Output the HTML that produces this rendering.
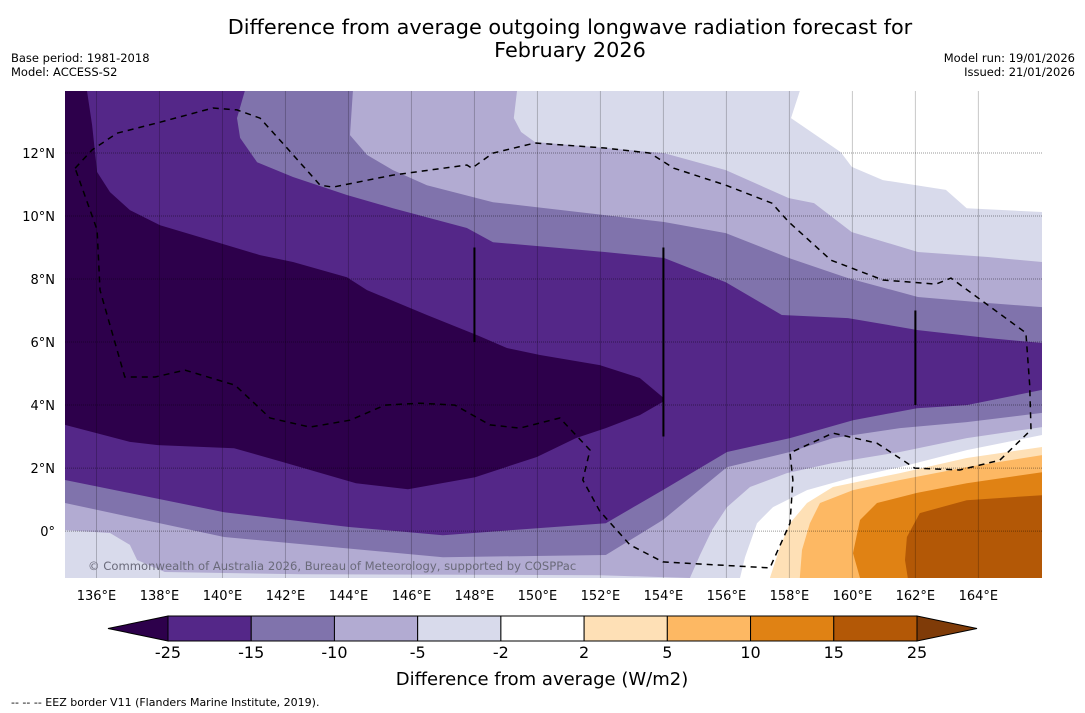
<!DOCTYPE html>
<html><head><meta charset="utf-8"><style>
html,body{margin:0;padding:0;background:#fff;}
svg{display:block;font-family:"DejaVu Sans","Liberation Sans",sans-serif;}
</style></head><body>
<svg id="chart" width="1085" height="713" viewBox="0 0 1085 713" xmlns="http://www.w3.org/2000/svg">
<text x="570" y="34" text-anchor="middle" font-size="20.8" fill="#000">Difference from average outgoing longwave radiation forecast for</text>
<text x="570" y="57" text-anchor="middle" font-size="20.8" fill="#000">February 2026</text>
<text x="11" y="62" font-size="11.5">Base period: 1981-2018</text>
<text x="11" y="76" font-size="11.5">Model: ACCESS-S2</text>
<text x="1075" y="62" font-size="11.5" text-anchor="end">Model run: 19/01/2026</text>
<text x="1075" y="76" font-size="11.5" text-anchor="end">Issued: 21/01/2026</text>
<defs><clipPath id="mapclip"><rect x="65" y="91" width="977" height="487"/></clipPath></defs>
<g id="map" clip-path="url(#mapclip)"></g>
<g id="axes"></g>
<g id="cbar"></g>
<text x="542" y="685" text-anchor="middle" font-size="18">Difference from average (W/m2)</text>
<text x="11" y="706" font-size="11">--  --  -- EEZ border V11 (Flanders Marine Institute, 2019).</text>
</svg>
<script>
const lonTicks=[136,138,140,142,144,146,148,150,152,154,156,158,160,162,164];
const latTicks=[0,2,4,6,8,10,12];
const cbLevels=[-25,-15,-10,-5,-2,2,5,10,15,25];
const cbColors=["#542788","#8073ac","#b2abd2","#d8daeb","#ffffff","#fee0b6","#fdb863","#e08214","#b35806"];
const cbUnder="#2d004b", cbOver="#7f3b08";
const whiteTop=[[158.33,13.97],[158.05,13.11],[159.63,12.03],[159.98,11.56],[160.97,11.14],[162.97,10.83],[163.63,10.25],[166.02,10.13]];
const whiteBottom=[[166.02,3.05],[163.63,2.57],[161.51,2.03],[160.02,1.71],[158.56,1.30],[157.48,0.76],[156.97,0.25],[156.59,-0.83],[156.43,-1.49]];
const p5Top=[[149.35,13.97],[149.25,13.11],[149.48,12.67],[149.92,12.35],[152.14,12.16],[154.02,12.00],[155.98,11.46],[157.98,10.57],[158.78,10.41],[159.98,9.49],[162.08,8.86],[164.30,8.70],[166.02,8.54]];
const p5Bottom=[[166.02,3.30],[163.63,2.95],[161.51,2.51],[159.38,2.16],[157.92,1.84],[156.75,1.40],[156.02,0.76],[155.54,0.03],[155.16,-0.76],[154.84,-1.49]];
const llPatch=[[135,0.03],[136.43,-0.06],[137.06,-0.44],[137.29,-0.92],[138.17,-1.30],[142.46,-1.37],[151.98,-1.40],[154.84,-1.49],[135,-1.49]];
const p10Top=[[144.14,13.97],[144.05,12.57],[144.59,11.94],[145.41,11.46],[146.49,10.98],[148.59,10.44],[152.14,10.03],[154.02,9.81],[155.98,9.46],[157.98,8.67],[159.86,8.03],[162.08,7.43],[164.30,7.24],[166.02,7.11]];
const p10Bottom=[[166.02,3.75],[163.63,3.46],[161.51,3.27],[159.38,2.95],[158.02,2.51],[156.02,2.03],[153.98,0.35],[152.17,-0.76],[147.0,-0.83],[140.05,-0.19],[135,0.89]];
const p15Top=[[140.71,13.97],[140.46,13.11],[140.56,12.48],[141.10,11.71],[142.24,11.24],[143.95,10.67],[145.41,10.25],[147.76,9.62],[148.59,9.17],[152.14,8.86],[154.02,8.67],[155.98,7.90],[157.76,6.86],[159.86,6.76],[162.08,6.38],[164.30,6.13],[166.02,5.97]];
const p15Bottom=[[166.02,4.48],[163.63,4.00],[162.05,3.90],[160.02,3.52],[158.02,2.95],[156.02,2.51],[153.98,1.30],[152.17,0.25],[147.0,-0.13],[144.02,0.13],[140.05,0.60],[135,1.62]];
const darkTop=[[135.70,13.97],[135.86,12.89],[136.02,11.40],[136.43,10.76],[137.06,10.19],[138.02,9.71],[139.92,9.14],[141.19,8.76],[142.24,8.54],[143.95,8.06],[144.59,7.65],[146.49,6.86],[148.08,6.22],[149.03,5.81],[150.08,5.59],[151.98,5.27],[153.25,4.86],[153.98,4.25]];
const darkBottom=[[153.98,4.10],[153.25,3.68],[152.17,3.27],[151.22,2.95],[149.98,2.35],[148.02,1.71],[145.89,1.33],[144.24,1.52],[141.92,2.19],[140.37,2.63],[137.95,2.73],[137.06,2.83],[135,3.37]];
const o2=[[166.02,2.67],[163.63,2.32],[161.51,1.84],[159.38,1.40],[158.56,0.89],[158.02,0.25],[157.70,-0.51],[157.38,-1.49]];
const o5=[[166.02,2.41],[163.63,2.03],[161.51,1.62],[160.02,1.30],[158.97,0.89],[158.65,0.25],[158.40,-0.60],[158.33,-1.49]];
const o10=[[166.02,1.87],[163.63,1.52],[162.05,1.21],[160.78,0.89],[160.24,0.35],[160.02,-0.70],[160.24,-1.49]];
const o15=[[166.02,1.14],[163.63,0.98],[162.14,0.57],[161.73,-0.19],[161.67,-0.92],[161.76,-1.49]];
const eez=[[135.32,11.52],[135.86,12.10],[136.65,12.63],[138.02,12.98],[139.70,13.43],[140.46,13.37],[141.19,13.11],[142.05,12.16],[143.10,10.98],[143.51,10.92],[145.41,11.30],[147.76,11.62],[147.92,11.52],[148.59,12.00],[149.92,12.32],[152.14,12.16],[153.57,12.00],[154.33,11.52],[155.98,10.98],[157.44,10.41],[157.98,9.81],[159.32,8.60],[160.97,7.97],[162.65,7.84],[163.13,8.03],[165.51,6.29],[165.63,4.63],[165.67,3.21],[164.68,2.25],[163.41,1.94],[161.98,2.00],[160.78,2.79],[159.38,3.11],[158.02,2.48],[158.11,1.62],[158.02,0.25],[157.38,-1.17],[153.98,-0.98],[152.94,-0.44],[151.98,0.63],[151.44,1.62],[151.67,2.57],[150.71,3.59],[149.44,3.27],[148.49,3.37],[147.38,4.00],[146.27,4.06],[145.16,4.00],[144.05,3.52],[142.78,3.30],[141.51,3.59],[140.40,4.63],[138.81,5.11],[137.86,4.89],[136.90,4.89],[136.11,7.65],[136.02,9.56],[135.32,11.52]];
const blackLines=[[148,9,6],[154,9,3],[162,7,4]];

const NS="http://www.w3.org/2000/svg";
const lonMin=135, lonMax=166.02, latMin=-1.49, latMax=13.97;
const X0=65,X1=1042,Y0=578,Y1=91;
function X(lon){return X0+(lon-lonMin)/(lonMax-lonMin)*(X1-X0);}
function Y(lat){return Y0-(lat-latMin)/(latMax-latMin)*(Y0-Y1);}
function pts(arr){return arr.map(p=>X(p[0]).toFixed(1)+","+Y(p[1]).toFixed(1)).join(" ");}
const map=document.getElementById("map");
function poly(arr,fill,name){
  const el=document.createElementNS(NS,"polygon");
  el.setAttribute("points",pts(arr));el.setAttribute("fill",fill);
  
  
  map.appendChild(el);return el;
}
const TL=[lonMin,latMax],TR=[lonMax,latMax],BL=[lonMin,latMin],BR=[lonMax,latMin];
poly([TL,TR,BR,BL],"#d8daeb","contour-minus2-to-minus5");
poly([[whiteTop[0][0],latMax],...whiteTop,TR],"#ffffff","contour-near-zero-north");
poly([...whiteBottom,BR],"#ffffff","contour-near-zero-south");
poly([TL,...p5Top,...p5Bottom,BL],"#b2abd2","contour-minus5-to-minus10");
poly(llPatch,"#d8daeb","contour-minus2-to-minus5-southwest");
poly([TL,...p10Top,...p10Bottom],"#8073ac","contour-minus10-to-minus15");
poly([TL,...p15Top,...p15Bottom],"#542788","contour-minus15-to-minus25");
poly([TL,...darkTop,...darkBottom],"#2d004b","contour-below-minus25");
poly([...o2,BR],"#fee0b6","contour-2-to-5");
poly([...o5,BR],"#fdb863","contour-5-to-10");
poly([...o10,BR],"#e08214","contour-10-to-15");
poly([...o15,BR],"#b35806","contour-15-to-25");
lonTicks.forEach(l=>{
  const ln=document.createElementNS(NS,"line");
  ln.setAttribute("x1",X(l));ln.setAttribute("x2",X(l));ln.setAttribute("y1",Y1);ln.setAttribute("y2",Y0);
  ln.setAttribute("stroke","rgba(0,0,0,0.22)");ln.setAttribute("stroke-width","1");
  
  
  map.appendChild(ln);
});
latTicks.forEach(l=>{
  const ln=document.createElementNS(NS,"line");
  ln.setAttribute("x1",X0);ln.setAttribute("x2",X1);ln.setAttribute("y1",Y(l));ln.setAttribute("y2",Y(l));
  ln.setAttribute("stroke","rgba(0,0,0,0.4)");ln.setAttribute("stroke-width","1");ln.setAttribute("stroke-dasharray","1,1");
  
  
  map.appendChild(ln);
});
blackLines.forEach(b=>{
  const ln=document.createElementNS(NS,"line");
  ln.setAttribute("x1",X(b[0]));ln.setAttribute("x2",X(b[0]));ln.setAttribute("y1",Y(b[1]));ln.setAttribute("y2",Y(b[2]));
  ln.setAttribute("stroke","#000");ln.setAttribute("stroke-width","2");
  
  
  map.appendChild(ln);
});
const ez=document.createElementNS(NS,"polyline");
ez.setAttribute("points",pts(eez));ez.setAttribute("fill","none");ez.setAttribute("stroke","#000");
ez.setAttribute("stroke-width","1.5");ez.setAttribute("stroke-dasharray","6,5");


map.appendChild(ez);
const cr=document.createElementNS(NS,"text");
cr.setAttribute("x","88");cr.setAttribute("y","570");cr.setAttribute("font-size","11.6");cr.setAttribute("fill","#6a6a7a");
cr.textContent="© Commonwealth of Australia 2026, Bureau of Meteorology, supported by COSPPac";


map.appendChild(cr);
const axes=document.getElementById("axes");
lonTicks.forEach(l=>{
  const t=document.createElementNS(NS,"text");
  t.setAttribute("x",X(l));t.setAttribute("y","600");t.setAttribute("text-anchor","middle");t.setAttribute("font-size","13");
  t.textContent=l+"°E";
  
  
  axes.appendChild(t);
});
latTicks.forEach(l=>{
  const t=document.createElementNS(NS,"text");
  t.setAttribute("x","55");t.setAttribute("y",Y(l)+5);t.setAttribute("text-anchor","end");t.setAttribute("font-size","13");
  t.textContent=l===0?"0°":l+"°N";
  
  
  axes.appendChild(t);
});
const cb=document.getElementById("cbar");
const cbX0=168,cbX1=917,cbY0=616,cbY1=641,cbTri=60;
const bw=(cbX1-cbX0)/cbColors.length;
function cbPoly(p,fill,name){
  const el=document.createElementNS(NS,"polygon");
  el.setAttribute("points",p);el.setAttribute("fill",fill);el.setAttribute("stroke","#000");el.setAttribute("stroke-width","1");
  
  
  cb.appendChild(el);
}
cbPoly(`${cbX0},${cbY0} ${cbX0-cbTri},${(cbY0+cbY1)/2} ${cbX0},${cbY1}`,cbUnder,"colorbar-under-arrow");
cbPoly(`${cbX1},${cbY0} ${cbX1+cbTri},${(cbY0+cbY1)/2} ${cbX1},${cbY1}`,cbOver,"colorbar-over-arrow");
cbColors.forEach((c,i)=>{
  const x=cbX0+i*bw;
  cbPoly(`${x},${cbY0} ${x+bw},${cbY0} ${x+bw},${cbY1} ${x},${cbY1}`,c,"colorbar-box");
});
cbLevels.forEach((v,i)=>{
  const t=document.createElementNS(NS,"text");
  t.setAttribute("x",cbX0+i*bw);t.setAttribute("y","658");t.setAttribute("text-anchor","middle");t.setAttribute("font-size","16");
  t.textContent=v;
  
  
  cb.appendChild(t);
});
</script>
</body></html>
